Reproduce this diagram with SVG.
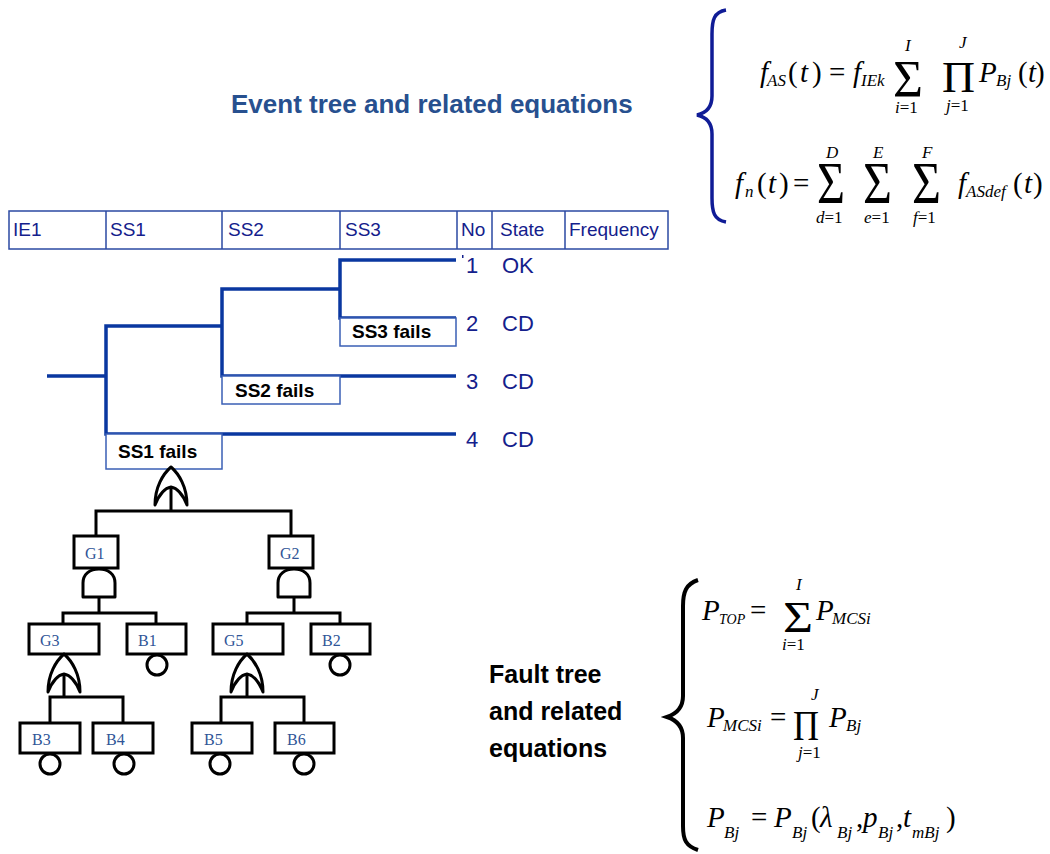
<svg xmlns="http://www.w3.org/2000/svg" width="1050" height="854" viewBox="0 0 1050 854">
<defs>
<style>
.hdr{fill:none;stroke:#2b4aa3;stroke-width:1.5}
.ht{font-family:"Liberation Sans",Arial,sans-serif;font-size:19px;fill:#14208c}
.et{fill:none;stroke:#0a37a0;stroke-width:3.5;stroke-linejoin:miter}
.fb{fill:#fff;stroke:#3a5fb5;stroke-width:1.5}
.ft{font-family:"Liberation Sans",Arial,sans-serif;font-size:19px;font-weight:bold;fill:#000}
.out{font-family:"Liberation Sans",Arial,sans-serif;font-size:22px;fill:#14208c}
.ttl{font-family:"Liberation Sans",Arial,sans-serif;font-size:26px;font-weight:bold;fill:#27508f}
.ftt{font-family:"Liberation Sans",Arial,sans-serif;font-size:25px;font-weight:bold;fill:#000}
.ln{fill:none;stroke:#000;stroke-width:3}
.box{fill:#fff;stroke:#000;stroke-width:3}
.bl{font-family:"Liberation Serif","Times New Roman",serif;font-size:16px;fill:#2f5597}
.gate{fill:#fff;stroke:#000;stroke-width:3;stroke-linejoin:round}
.circ{fill:#fff;stroke:#000;stroke-width:3}
.m{font-family:"Liberation Serif","Times New Roman",serif;fill:#000}
.i{font-style:italic}
.M{font-size:29px}
.s{font-size:17px}
.t{font-size:14px}
</style>
<path id="orG" d="M -16 38 C -16 20 -8 7 0 0 C 8 7 16 20 16 38 C 12 28 6 21 0 20 C -6 21 -12 28 -16 38 Z"/>
<path id="andG" d="M -16 28 L -16 14 C -16 5 -9 0 0 0 C 9 0 16 5 16 14 L 16 28 Z"/>
</defs>
<rect width="1050" height="854" fill="#fff"/>

<text id="title" class="ttl" x="231" y="113">Event tree and related equations</text>

<g id="header">
<rect class="hdr" x="9" y="211" width="659" height="38"/>
<path class="hdr" d="M106 211V249M222 211V249M340 211V249M457 211V249M492 211V249M565 211V249"/>
<text class="ht" x="13" y="236">IE1</text>
<text class="ht" x="110" y="236">SS1</text>
<text class="ht" x="228" y="236">SS2</text>
<text class="ht" x="345" y="236">SS3</text>
<text class="ht" x="461" y="236">No</text>
<text class="ht" x="500" y="236">State</text>
<text class="ht" x="569" y="236">Frequency</text>
</g>

<g id="connectors">
<path class="et" d="M47 376H106M456 260H340V318H456M340 289H222V376H456M222 326H106V434H456"/>
<path class="ln" d="M171 487V511M96 536V511H291V536"/>
<path class="ln" d="M99 596V613M63 624V613H156V624"/>
<path class="ln" d="M294 596V613M247 624V613H340V624"/>
<path class="ln" d="M64 674V697M50 723V697H123V723"/>
<path class="ln" d="M247 674V697M221 723V697H304V723"/>
</g>

<g id="ss3-fails"><rect class="fb" x="340" y="318" width="116" height="28"/><text class="ft" x="352" y="338">SS3 fails</text></g>
<g id="ss2-fails"><rect class="fb" x="222" y="376" width="118" height="28"/><text class="ft" x="235" y="397">SS2 fails</text></g>
<g id="ss1-fails"><rect class="fb" x="106" y="434" width="116" height="35"/><text class="ft" x="118" y="458">SS1 fails</text>
<use href="#orG" class="gate" transform="translate(171,467)"/></g>

<g id="out1"><rect x="462" y="255" width="1.5" height="3" fill="#14208c"/><text class="out" x="466" y="273">1</text><text class="out" x="502" y="273">OK</text></g>
<g id="out2"><text class="out" x="466" y="331">2</text><text class="out" x="502" y="331">CD</text></g>
<g id="out3"><text class="out" x="466" y="389">3</text><text class="out" x="502" y="389">CD</text></g>
<g id="out4"><text class="out" x="466" y="447">4</text><text class="out" x="502" y="447">CD</text></g>

<g id="G1"><rect class="box" x="74" y="536" width="44" height="32"/><text class="bl" x="85" y="559">G1</text><use href="#andG" class="gate" transform="translate(99,569)"/></g>
<g id="G2"><rect class="box" x="269" y="536" width="44" height="32"/><text class="bl" x="280" y="559">G2</text><use href="#andG" class="gate" transform="translate(294,569)"/></g>
<g id="G3"><rect class="box" x="29" y="624" width="70" height="30"/><text class="bl" x="40" y="646">G3</text><use href="#orG" class="gate" transform="translate(64,654)"/></g>
<g id="B1"><rect class="box" x="127" y="624" width="59" height="30"/><text class="bl" x="138" y="646">B1</text><circle class="circ" cx="157" cy="665" r="10"/></g>
<g id="G5"><rect class="box" x="213" y="624" width="70" height="30"/><text class="bl" x="224" y="646">G5</text><use href="#orG" class="gate" transform="translate(247,654)"/></g>
<g id="B2"><rect class="box" x="311" y="624" width="59" height="30"/><text class="bl" x="322" y="646">B2</text><circle class="circ" cx="340" cy="665" r="10"/></g>
<g id="B3"><rect class="box" x="20" y="723" width="60" height="30"/><text class="bl" x="32" y="745">B3</text><circle class="circ" cx="50" cy="764" r="10"/></g>
<g id="B4"><rect class="box" x="93" y="723" width="60" height="30"/><text class="bl" x="106" y="745">B4</text><circle class="circ" cx="124" cy="764" r="10"/></g>
<g id="B5"><rect class="box" x="192" y="723" width="60" height="30"/><text class="bl" x="204" y="745">B5</text><circle class="circ" cx="220" cy="764" r="10"/></g>
<g id="B6"><rect class="box" x="275" y="723" width="59" height="30"/><text class="bl" x="287" y="745">B6</text><circle class="circ" cx="304" cy="764" r="10"/></g>

<g id="event-equations">
<path d="M726 10C714 12 712 20 712 34L712 96C712 108 706 113 697 115C706 117 712 122 712 134L712 198C712 212 714 220 726 222" fill="none" stroke="#101c96" stroke-width="3.5"/>
<text class="m i M" x="760" y="82">f</text>
<text class="m i s" x="767" y="86">AS</text>
<text class="m M" y="82"><tspan x="788">(</tspan><tspan class="i" x="800">t</tspan><tspan x="812">)</tspan></text>
<text class="m M" x="829" y="82">=</text>
<text class="m i M" x="853" y="82">f</text>
<text class="m i s" x="861" y="86">IEk</text>
<text class="m" x="893" y="97" font-size="53" textLength="30" lengthAdjust="spacingAndGlyphs">Σ</text>
<text class="m i s" x="905" y="51">I</text>
<text class="m s" x="895" y="113"><tspan class="i">i</tspan>=1</text>
<text class="m" x="942" y="92" font-size="45" textLength="33" lengthAdjust="spacingAndGlyphs">Π</text>
<text class="m i s" x="959" y="48">J</text>
<text class="m s" x="946" y="111"><tspan class="i">j</tspan>=1</text>
<text class="m i M" x="979" y="82">P</text>
<text class="m i s" x="996" y="86">Bj</text>
<text class="m M" y="82"><tspan x="1018">(</tspan><tspan class="i" x="1028">t</tspan><tspan x="1035">)</tspan></text>

<text class="m i M" x="735" y="193">f</text>
<text class="m i s" x="745" y="197">n</text>
<text class="m M" y="193"><tspan x="757">(</tspan><tspan class="i" x="768">t</tspan><tspan x="779">)</tspan></text>
<text class="m M" x="793" y="193">=</text>
<text class="m" x="817" y="203" font-size="60" textLength="28" lengthAdjust="spacingAndGlyphs">Σ</text>
<text class="m i s" x="826" y="158">D</text>
<text class="m s" x="816" y="223"><tspan class="i">d</tspan>=1</text>
<text class="m" x="863" y="203" font-size="60" textLength="29" lengthAdjust="spacingAndGlyphs">Σ</text>
<text class="m i s" x="873" y="158">E</text>
<text class="m s" x="864" y="223"><tspan class="i">e</tspan>=1</text>
<text class="m" x="912" y="203" font-size="60" textLength="29" lengthAdjust="spacingAndGlyphs">Σ</text>
<text class="m i s" x="922" y="158">F</text>
<text class="m s" x="913" y="223"><tspan class="i">f</tspan>=1</text>
<text class="m i M" x="958" y="193">f</text>
<text class="m i s" x="966" y="197">ASdef</text>
<text class="m M" y="193"><tspan x="1013">(</tspan><tspan class="i" x="1024">t</tspan><tspan x="1033">)</tspan></text>
</g>

<g id="fault-label">
<text class="ftt" x="489" y="683">Fault tree</text>
<text class="ftt" x="489" y="720">and related</text>
<text class="ftt" x="489" y="757">equations</text>
</g>

<g id="fault-equations">
<path d="M698 580C686 584 683 592 683 606L683 696C683 708 676 714 667 717C676 720 683 726 683 738L683 826C683 840 686 846 698 850" fill="none" stroke="#000" stroke-width="4"/>
<text class="m i M" x="702" y="620">P</text>
<text class="m i t" x="719" y="624">TOP</text>
<text class="m M" x="750" y="620">=</text>
<text class="m" x="783" y="632" font-size="44" textLength="30" lengthAdjust="spacingAndGlyphs">Σ</text>
<text class="m i s" x="796" y="590">I</text>
<text class="m s" x="782" y="650"><tspan class="i">i</tspan>=1</text>
<text class="m i M" x="816" y="620">P</text>
<text class="m i s" x="832" y="624">MCSi</text>

<text class="m i M" x="707" y="727">P</text>
<text class="m i s" x="723" y="731">MCSi</text>
<text class="m M" x="770" y="727">=</text>
<text class="m" x="793" y="740" font-size="42" textLength="26" lengthAdjust="spacingAndGlyphs">Π</text>
<text class="m i s" x="811" y="700">J</text>
<text class="m s" x="798" y="758"><tspan class="i">j</tspan>=1</text>
<text class="m i M" x="829" y="727">P</text>
<text class="m i s" x="846" y="731">Bj</text>

<text class="m i M" x="707" y="827">P</text>
<text class="m i s" x="724" y="838">Bj</text>
<text class="m M" x="751" y="827">=</text>
<text class="m i M" x="774" y="827">P</text>
<text class="m i s" x="792" y="838">Bj</text>
<text class="m M" x="811" y="827">(</text>
<text class="m i M" x="820" y="827">λ</text>
<text class="m i s" x="837" y="838">Bj</text>
<text class="m M" x="856" y="827">,</text>
<text class="m i M" x="863" y="827">p</text>
<text class="m i s" x="878" y="838">Bj</text>
<text class="m M" x="896" y="827">,</text>
<text class="m i M" x="903" y="827">t</text>
<text class="m i s" x="912" y="838">mBj</text>
<text class="m M" x="946" y="827">)</text>
</g>
</svg>
